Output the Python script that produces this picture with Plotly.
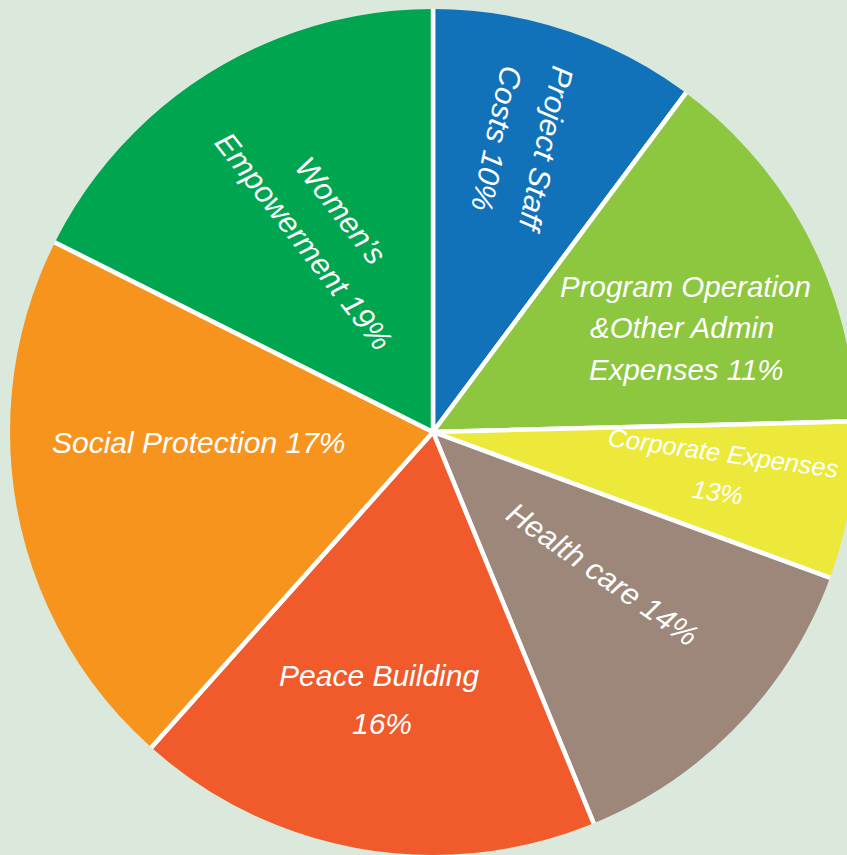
import plotly.graph_objects as go

# ---------------- data ----------------
categories = [
    "Project Staff Costs",
    "Program Operation &Other Admin Expenses",
    "Corporate Expenses",
    "Health care",
    "Peace Building",
    "Social Protection",
    "Women's Empowerment",
]
# share of the circle each slice occupies in the drawing
slice_shares = [10.2, 14.4, 6.0, 13.2, 17.8, 20.8, 17.6]
# percentages printed in the labels
stated_pct = [10, 11, 13, 14, 16, 17, 19]
slice_colors = ["#1172BA", "#8DC63F", "#ECE93A", "#9C877A", "#F15A2B", "#F7941E", "#00A54F"]

# label lines per slice ("{p}" is replaced by the stated percentage)
label_lines = [
    ["Project Staff", "Costs {p}%"],
    ["Program Operation", "&Other Admin", "Expenses {p}%"],
    ["Corporate Expenses", "{p}%"],
    ["Health care {p}%"],
    ["Peace Building", "{p}%"],
    ["Social Protection {p}%"],
    ["Women\u2019s", "Empowerment {p}%"],
]

# ---------------- style / placement ----------------
BG = "#DAE9DB"
W, H = 870, 870
CX, CY, R_VIS = 433, 432, 423
MASK_W = 6
R_PIE = R_VIS + MASK_W / 2
FONT = "Liberation Sans, Arial, sans-serif"

# per-line label placement: (pixel x, pixel y, angle, font size)
label_place = [
    [(546, 150, 102, 30.5), (497, 139, 102, 30.5)],
    [(685, 286, 0, 29.5), (682, 327, 0, 29.5), (686, 369, 0, 29.5)],
    [(723, 453, 8, 25.5), (717, 492, 8, 25.5)],
    [(603, 574, 35, 30.5)],
    [(379, 675, 0, 30), (382, 723, 0, 30)],
    [(199, 442, 0, 30)],
    [(341, 210, 52, 30.5), (304, 241, 52, 30.5)],
]

dom_x = [(CX - R_PIE) / W, (CX + R_PIE) / W]
dom_y = [1 - (CY + R_PIE) / H, 1 - (CY - R_PIE) / H]

fig = go.Figure(
    go.Pie(
        labels=categories,
        values=slice_shares,
        sort=False,
        direction="clockwise",
        rotation=0,
        marker=dict(colors=slice_colors, line=dict(color="white", width=4.5)),
        textinfo="none",
        hoverinfo="label",
        showlegend=False,
        domain=dict(x=dom_x, y=dom_y),
    )
)

annotations = []
for lines, places, pct in zip(label_lines, label_place, stated_pct):
    for txt, (px, py, ang, sz) in zip(lines, places):
        annotations.append(dict(
            x=px / W, y=1 - py / H, xref="paper", yref="paper",
            text="<i>" + txt.replace("{p}", str(pct)) + "</i>",
            textangle=ang, showarrow=False,
            xanchor="center", yanchor="middle",
            font=dict(family=FONT, size=sz, color="white"),
        ))

# mask hiding the white outline along the outer arc
shapes = [dict(
    type="circle", xref="paper", yref="paper",
    x0=dom_x[0], x1=dom_x[1], y0=dom_y[0], y1=dom_y[1],
    line=dict(color=BG, width=MASK_W), fillcolor="rgba(0,0,0,0)", layer="above",
)]

fig.update_layout(
    width=W, height=H, autosize=False,
    margin=dict(l=0, r=0, t=0, b=0),
    paper_bgcolor=BG, plot_bgcolor=BG,
    annotations=annotations, shapes=shapes,
)

fig.write_html(
    "out.html",
    config={"displayModeBar": False},
    post_script="document.body.style.margin='0';document.body.style.overflow='hidden';",
)
